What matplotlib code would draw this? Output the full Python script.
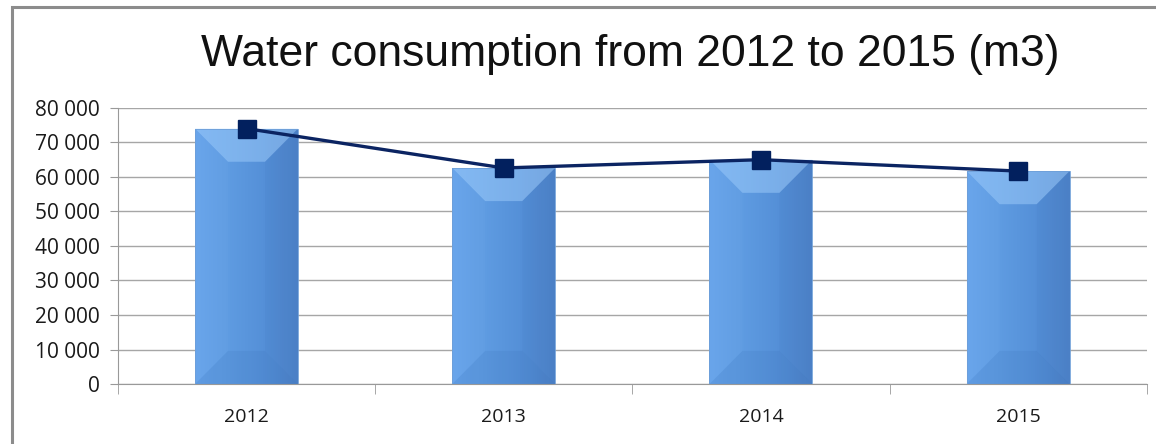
import matplotlib.pyplot as plt
import numpy as np
from matplotlib.patches import Polygon, Rectangle
from matplotlib.colors import LinearSegmentedColormap
from matplotlib.ticker import FuncFormatter

# data
years = ["2012", "2013", "2014", "2015"]
consumption = [74000, 62600, 65000, 61700]

fig = plt.figure(figsize=(11.56, 4.44), dpi=100)
ax = fig.add_axes([0.102, 0.135, 0.890, 0.622])

x = np.arange(len(years))
bars = ax.bar(x, consumption, width=0.4, color="#5E9BE2", zorder=2)

# bevel effect on bars
ymax = 80000
cmap = LinearSegmentedColormap.from_list("b", ["#66A3EA", "#5E9BE1", "#5590D8", "#4D82C8"])
for b in bars:
    x0, w, h = b.get_x(), b.get_width(), b.get_height()
    dx = w * 0.32
    dy = min(ymax * 0.12, h / 2)
    grad = np.linspace(0, 1, 50).reshape(1, -1)
    im = ax.imshow(grad, extent=[x0, x0 + w, 0, h], aspect="auto", cmap=cmap, zorder=2)
    im.set_clip_path(b)
    b.set_alpha(0)
    top = Polygon([[x0, h], [x0 + w, h], [x0 + w - dx, h - dy], [x0 + dx, h - dy]],
                  closed=True, color="#A8D4FF", alpha=0.45, lw=0, zorder=3)
    bot = Polygon([[x0, 0], [x0 + w, 0], [x0 + w - dx, dy], [x0 + dx, dy]],
                  closed=True, color="#2F64AA", alpha=0.12, lw=0, zorder=3)
    left = Polygon([[x0, 0], [x0 + dx, dy], [x0 + dx, h - dy], [x0, h]],
                   closed=True, color="#8CC0FA", alpha=0.08, lw=0, zorder=3)
    right = Polygon([[x0 + w, 0], [x0 + w - dx, dy], [x0 + w - dx, h - dy], [x0 + w, h]],
                    closed=True, color="#2F64AA", alpha=0.06, lw=0, zorder=3)
    for p in (top, bot, left, right):
        ax.add_patch(p)
    ax.add_patch(Rectangle((x0, 0), w, h, fill=False, ec="#6E9FD8", lw=0.6, zorder=3))

ax.plot(x, consumption, color="#0B2462", lw=2.4, marker="s", markersize=13,
        markerfacecolor="#02205E", markeredgecolor="#02205E", zorder=4)

ax.set_xlim(-0.5, len(years) - 0.5)
ax.set_ylim(0, ymax)
ax.set_yticks(np.arange(0, 80001, 10000))
ax.yaxis.set_major_formatter(FuncFormatter(lambda v, p: f"{int(v):,}".replace(",", " ")))
ax.set_xticks(x)
ax.set_xticklabels(years)
ax.set_xticks(np.arange(-0.5, len(years), 1), minor=True)
ax.tick_params(axis="x", which="major", length=0, pad=17, labelsize=14)
ax.tick_params(axis="x", which="minor", length=7, color="#999999", direction="out")
ax.tick_params(axis="y", length=6, color="#999999", labelsize=15, pad=7)
for lab in ax.get_xticklabels() + ax.get_yticklabels():
    lab.set_fontfamily("Open Sans")
    lab.set_color("#1A1A1A")

ax.grid(axis="y", color="#A6A6A6", lw=1, zorder=0)
ax.set_axisbelow(True)
for s in ["top", "right"]:
    ax.spines[s].set_visible(False)
ax.spines["left"].set_color("#999999")
ax.spines["bottom"].set_color("#999999")

fig.text(0.545, 0.877, "Water consumption from 2012 to 2015 (m3)", ha="center", va="center",
         fontsize=32, family="Liberation Sans", color="#111111")

# outer chart frame
fig.add_artist(Rectangle((0.0105, -0.1), 1.2, 1.084, transform=fig.transFigure,
                         fill=False, ec="#8C8C8C", lw=2.2))

fig.savefig("out.png", dpi=100)
